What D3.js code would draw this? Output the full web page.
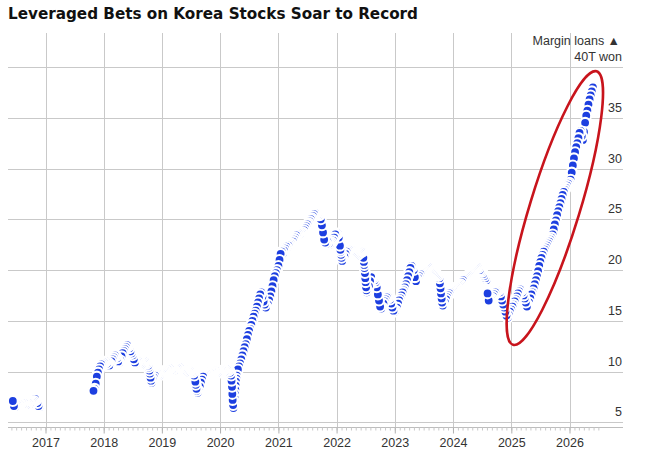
<!DOCTYPE html>
<html><head><meta charset="utf-8">
<script src="https://cdn.jsdelivr.net/npm/d3@7"></script>
<style>body{margin:0;background:#fff}svg{display:block}</style>
</head><body>
<svg id="chart" width="649" height="450"></svg>
<script>
const chartTitle = "Leveraged Bets on Korea Stocks Soar to Record";
const unitLabel = "Margin loans \u25B2";
const yTickValues = [5, 10, 15, 20, 25, 30, 35, 40];
const yTickLabels = ["5", "10", "15", "20", "25", "30", "35", "40T won"];
const xTickYears = [2017, 2018, 2019, 2020, 2021, 2022, 2023, 2024, 2025, 2026];

// weekly readings (trillion won); each segment starts at its date and steps one week
const weekStarts = ["2016-06-10", "2017-10-29", "2018-01-01", "2019-01-01", "2020-01-01",
  "2021-01-01", "2022-01-01", "2023-01-01", "2024-01-01", "2025-01-01", "2026-01-01"];
const w2016 = [7.1, 6.6, 6.5, 6.6, 6.7, 6.7, 6.8, 6.8, 6.9, 6.8, 6.9, 6.8, 6.7, 6.8, 6.9, 6.8, 6.8, 6.9, 7.0, 7.1, 7.3, 7.2, 6.9, 6.6, 6.5];
const w2017 = [8.1, 8.3, 8.8, 9.5, 9.9, 10.2, 10.5, 10.7, 10.8];
const w2018 = [10.9, 10.9, 11.0, 10.8, 10.9, 10.6, 10.7, 11.0, 11.2, 11.4,
  11.6, 11.5, 11.3, 11.0, 10.9, 11.1, 11.5, 11.8, 12.0, 12.2,
  12.4, 12.6, 12.5, 12.3, 12.0, 11.8, 11.6, 11.2, 10.9, 10.8,
  10.9, 11.0, 10.9, 10.8, 10.7, 10.8, 10.9, 11.0, 10.9, 10.8,
  10.6, 10.1, 9.4, 8.9, 9.2, 9.4, 9.6, 9.7, 9.8, 9.7, 9.6, 9.7];
const w2019 = [9.8, 9.9, 10.0, 10.1, 10.1, 10.2, 10.2, 10.3, 10.3, 10.2,
  10.2, 10.1, 10.1, 10.2, 10.3, 10.3, 10.4, 10.3, 10.2, 10.1,
  10.0, 9.9, 9.9, 9.9, 10.0, 10.1, 10.1, 10.0, 9.9, 9.6,
  9.0, 8.3, 7.9, 8.1, 8.5, 8.9, 9.2, 9.5, 9.6, 9.7,
  9.8, 9.8, 9.8, 9.9, 9.9, 10.0, 10.0, 10.0, 10.1, 10.0, 9.9, 9.9];
const w2020 = [9.9, 10.0, 10.1, 10.1, 10.0, 10.1, 10.2, 10.2, 10.1, 9.9,
  9.6, 7.8, 6.4, 7.4, 8.6, 9.6, 10.2, 10.5, 10.8, 11.2,
  11.6, 12.0, 12.4, 12.7, 13.2, 13.6, 14.0, 14.2, 14.6, 15.0,
  15.4, 15.7, 16.0, 16.4, 16.8, 17.2, 17.6, 17.8, 17.4, 16.9,
  16.6, 16.3, 16.3, 16.6, 17.0, 17.4, 17.9, 18.4, 19.0, 19.4, 19.7, 20.0];
const w2021 = [20.4, 21.0, 21.6, 21.8, 21.6, 21.9, 22.1, 22.3, 22.2, 22.4,
  22.5, 22.6, 22.6, 22.8, 23.0, 23.2, 23.4, 23.5, 23.6, 23.5,
  23.6, 23.7, 23.7, 23.9, 24.1, 24.3, 24.5, 24.6, 24.8, 25.0,
  25.1, 25.3, 25.5, 25.6, 25.6, 25.5, 25.4, 25.4, 25.0, 24.4,
  23.7, 23.0, 22.7, 22.6, 22.8, 22.6, 22.5, 22.6, 22.7, 22.9, 23.2, 23.5];
const w2022 = [23.5, 23.6, 23.2, 22.4, 21.5, 20.9, 21.0, 21.3, 21.6, 21.8,
  21.9, 22.0, 22.0, 21.9, 21.8, 21.7, 21.6, 21.5, 21.4, 21.5,
  21.6, 21.7, 21.8, 21.8, 21.2, 20.2, 18.8, 17.8, 17.9, 18.4,
  18.9, 19.3, 19.3, 19.2, 19.0, 18.8, 18.3, 17.6, 17.0, 16.4,
  16.2, 16.3, 16.7, 16.9, 17.1, 17.3, 17.4, 17.3, 17.1, 16.7, 16.3, 16.0];
const w2023 = [15.9, 16.0, 16.3, 16.7, 17.0, 17.2, 17.5, 17.8, 18.0, 18.3,
  18.6, 19.0, 19.4, 19.8, 20.2, 20.4, 20.3, 20.0, 19.3, 18.9,
  19.0, 19.2, 19.4, 19.6, 19.7, 19.8, 19.9, 20.0, 20.1, 20.2,
  20.3, 20.2, 20.1, 20.0, 19.9, 19.8, 19.7, 19.6, 19.5, 19.4,
  19.2, 18.2, 17.2, 16.5, 16.5, 16.8, 17.1, 17.3, 17.5, 17.7, 17.8, 17.9];
const w2024 = [18.0, 18.1, 18.2, 18.3, 18.3, 18.4, 18.5, 18.6, 18.8, 19.0,
  19.1, 19.2, 19.3, 19.4, 19.5, 19.6, 19.7, 19.8, 19.9, 20.0,
  20.1, 20.2, 20.3, 20.2, 20.0, 19.9, 19.8, 19.6, 19.4, 19.2,
  19.0, 17.7, 17.0, 17.0, 17.1, 17.2, 17.4, 17.6, 17.8, 17.9,
  18.0, 18.0, 17.8, 17.4, 17.0, 16.6, 16.3, 15.9, 15.5, 15.3, 15.6, 15.9];
const w2025 = [16.1, 16.4, 16.6, 16.9, 17.1, 17.4, 17.7, 17.9, 18.1, 18.0,
  17.8, 17.5, 17.2, 16.8, 16.4, 16.5, 16.8, 17.2, 17.6, 17.8,
  18.2, 18.6, 19.0, 19.4, 19.9, 20.4, 20.8, 21.2, 21.5, 21.8,
  22.0, 22.2, 22.4, 22.6, 22.8, 23.0, 23.2, 23.5, 24.0, 24.5,
  24.9, 25.4, 25.8, 26.2, 26.6, 27.0, 27.4, 27.7, 27.9, 28.1, 28.3, 28.5];
const w2026 = [28.6, 28.9, 29.6, 30.3, 31.0, 31.6, 32.1, 32.5, 33.0, 33.5,
  33.7, 33.2, 32.8, 33.6, 34.5, 35.2, 35.7, 36.3, 36.8, 37.2, 37.6, 38.0];
const weeklySegments = [w2016, w2017, w2018, w2019, w2020, w2021, w2022, w2023, w2024, w2025, w2026];

// extra readings inside the sharp sell-offs (stacked markers)
const detailDates = ["2018-10-11", "2018-10-18", "2018-10-25", "2019-08-02", "2019-08-08",
  "2020-03-13", "2020-03-16", "2020-03-20", "2020-03-23", "2020-03-27", "2020-03-30",
  "2020-04-03", "2020-04-06", "2020-04-10", "2020-04-13",
  "2022-01-25", "2022-01-27", "2022-02-01",
  "2022-06-21", "2022-06-23", "2022-06-28", "2022-06-30", "2022-07-05", "2022-07-07",
  "2023-10-11", "2023-10-18", "2023-10-25"];
const detailValues = [10.4, 9.8, 9.1, 8.7, 8.1,
  9.1, 8.5, 7.2, 6.7, 6.6, 7.0,
  7.8, 8.2, 9.0, 9.3,
  22.0, 21.8, 21.2,
  20.8, 20.5, 19.7, 19.2, 18.3, 18.0,
  18.7, 17.7, 16.8];

// annotation ellipse around the latest surge (date, value)
const ringCenterDate = "2025-10-01";
const ringCenterValue = 26.1;

const parse = d3.timeParse("%Y-%m-%d");
const data = [];
weeklySegments.forEach((vals, s) => {
  const start = parse(weekStarts[s]);
  vals.forEach((v, i) => { if (v != null) data.push({ date: d3.timeDay.offset(start, 7 * i), value: v }); });
});
detailDates.forEach((d, i) => data.push({ date: parse(d), value: detailValues[i] }));
// earliest readings sit on top
data.sort((a, b) => b.date - a.date);

const svg = d3.select("#chart");
const plotLeft = 8, plotRight = 623, plotBottom = 427, plotTop = 33;
const x = d3.scaleTime().domain([new Date(2017, 0, 1), new Date(2026, 0, 1)]).range([45.5, 569.5]);
const y = d3.scaleLinear().domain([5, 40]).range([422.3, 67]);

const font = "'Liberation Sans', Arial, sans-serif";

// horizontal grid
svg.append("g").selectAll("line").data(yTickValues).join("line")
  .attr("x1", plotLeft).attr("x2", plotRight)
  .attr("y1", d => Math.round(y(d)) + 0.5).attr("y2", d => Math.round(y(d)) + 0.5)
  .attr("stroke", "#c9c9c9").attr("stroke-width", 1);
// vertical grid
svg.append("g").selectAll("line").data(xTickYears).join("line")
  .attr("x1", d => Math.round(x(new Date(d, 0, 1))) + 0.5).attr("x2", d => Math.round(x(new Date(d, 0, 1))) + 0.5)
  .attr("y1", plotTop).attr("y2", plotBottom)
  .attr("stroke", "#c9c9c9").attr("stroke-width", 1);

// x axis
const minorTicks = d3.timeMonth.range(new Date(2016, 5, 1), new Date(2026, 7, 1));
const xAxisG = svg.append("g").attr("transform", `translate(0,${plotBottom + 0.5})`);
xAxisG.append("line").attr("x1", plotLeft).attr("x2", plotRight).attr("stroke", "#bdbdbd");
xAxisG.append("g").call(d3.axisBottom(x).tickValues(minorTicks).tickSize(3).tickFormat(""))
  .call(g => g.select(".domain").remove())
  .call(g => g.selectAll("line").attr("stroke", "#c8c8c8"));
xAxisG.append("g").call(d3.axisBottom(x).tickValues(xTickYears.map(d => new Date(d, 0, 1))).tickSize(6).tickPadding(5).tickFormat(d3.timeFormat("%Y")))
  .call(g => g.select(".domain").remove())
  .call(g => g.selectAll("line").attr("stroke", "#b0b0b0"))
  .call(g => g.selectAll("text").attr("font-family", font).attr("font-size", 12.5).attr("fill", "#333"));

// points
svg.append("g").selectAll("circle").data(data).join("circle")
  .attr("cx", d => x(d.date)).attr("cy", d => y(d.value))
  .attr("r", 4.95)
  .attr("fill", "#1d3fe0")
  .attr("stroke", "#ffffff").attr("stroke-width", 2.1);

// y labels (right side)
svg.append("g").selectAll("text").data(yTickValues).join("text")
  .attr("x", 622).attr("y", d => y(d) - 6)
  .attr("text-anchor", "end")
  .attr("font-family", font).attr("font-size", 12.5).attr("fill", "#333")
  .text((d, i) => yTickLabels[i]);
svg.append("text").attr("x", 620).attr("y", 45).attr("text-anchor", "end")
  .attr("font-family", font).attr("font-size", 12.5).attr("fill", "#333").text(unitLabel);

// annotation ring
svg.append("ellipse")
  .attr("transform", `translate(${x(parse(ringCenterDate))},${y(ringCenterValue)}) rotate(17)`)
  .attr("rx", 25).attr("ry", 143)
  .attr("fill", "none").attr("stroke", "#c8141c").attr("stroke-width", 2.6);

// title
svg.append("text").attr("x", 8).attr("y", 18.5)
  .attr("font-family", "'DejaVu Sans', Verdana, sans-serif").attr("font-weight", "bold")
  .attr("font-size", 16).attr("fill", "#111")
  .attr("textLength", 410).attr("lengthAdjust", "spacingAndGlyphs")
  .text(chartTitle);
</script>
</body></html>
